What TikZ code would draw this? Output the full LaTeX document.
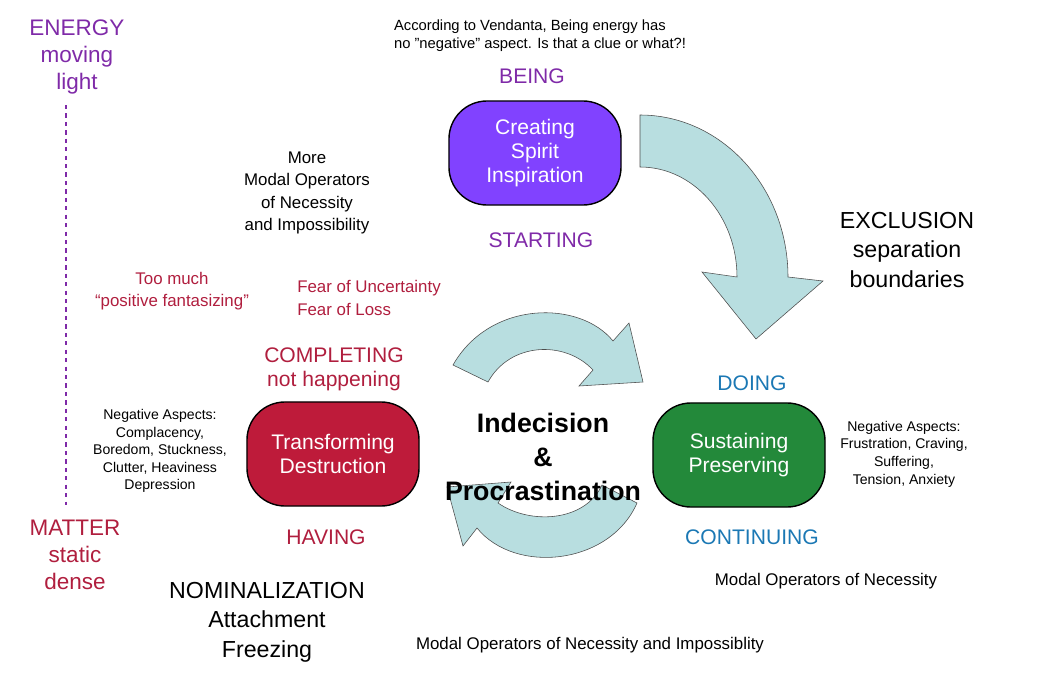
\documentclass[tikz,border=0pt]{standalone}
\usepackage{fontspec}
\setmainfont{Liberation Sans}
\usetikzlibrary{shapes.misc}
\definecolor{beingpurple}{HTML}{7F2AA8}
\definecolor{matterred}{HTML}{B01E3E}
\definecolor{doingblue}{HTML}{1B78B4}
\definecolor{boxpurple}{HTML}{8142FF}
\definecolor{boxred}{HTML}{BE1B3A}
\definecolor{boxgreen}{HTML}{23893A}
\definecolor{arrowfill}{HTML}{B8DEE0}
\tikzstyle{stage} = [rectangle, rounded corners=0.95cm, minimum width=4.3cm, minimum height=2.6cm, text centered, draw=black, line width=1pt, text=white, font=\fontsize{15}{17}\selectfont, align=center]
\tikzstyle{caption} = [align=center, font=\fontsize{15}{17}\selectfont]
\tikzstyle{note} = [align=center, font=\fontsize{10}{12.5}\selectfont]
\tikzstyle{bigarrow} = [fill=arrowfill, draw=black!70, line width=0.4pt]

\begin{document}
\begin{tikzpicture}[x=0.025cm, y=-0.025cm]
\useasboundingbox (0,0) rectangle (1048,677);

\node (creating) [stage, fill=boxpurple] at (535,153) {Creating\\Spirit\\Inspiration};
\node (transforming) [stage, fill=boxred] at (333,454) {Transforming\\Destruction};
\node (sustaining) [stage, fill=boxgreen] at (739,455) {Sustaining\\Preserving};

% Arrows
\draw [bigarrow] (640,115) arc[start angle=-90, end angle=0, x radius=148, y radius=162]
  -- (823,281) -- (756,339) -- (702,272) -- (737,277)
  arc[start angle=0, end angle=-90, x radius=97, y radius=110] -- cycle;
\draw [bigarrow] (453,365) .. controls (490,300) and (580,300) .. (613,341)
  -- (629,323) -- (643,382) -- (579,386) -- (593,370)
  .. controls (565,340) and (510,342) .. (488,382) -- cycle;
\draw [bigarrow] (637,503) .. controls (610,565) and (515,575) .. (477,528)
  -- (463,546) -- (447,487) -- (511,482) -- (498,503)
  .. controls (530,525) and (585,522) .. (602,485) -- cycle;

% Labels
\draw [beingpurple, dashed, line width=0.8pt] (66,105) -- (66,505);
\node (energy) [caption, text=beingpurple, font=\fontsize{16}{19}\selectfont] at (77,57) {ENERGY\\moving\\light};
\node (matter) [caption, text=matterred, font=\fontsize{16}{19}\selectfont] at (75,555) {MATTER\\static\\dense};
\node (vedanta) [note, align=left, font=\fontsize{10.5}{13}\selectfont] at (540,36) {According to Vendanta, Being energy has\\no \symbol{34}negative\symbol{34} aspect. Is that a clue or what?!};
\node (being) [caption, text=beingpurple] at (532,76) {BEING};
\node (starting) [caption, text=beingpurple] at (541,240) {STARTING};
\node (moremodal) [caption, font=\fontsize{12}{16}\selectfont] at (307,193) {More\\Modal Operators\\of Necessity\\and Impossibility};
\node (exclusion) [caption, font=\fontsize{16.5}{21}\selectfont] at (907,250) {EXCLUSION\\separation\\boundaries};
\node (fantasy) [caption, text=matterred, font=\fontsize{12}{16}\selectfont] at (172,291) {Too much\\“positive fantasizing”};
\node (fear) [caption, align=left, text=matterred, font=\fontsize{12}{16}\selectfont] at (369,298) {Fear of Uncertainty\\Fear of Loss};
\node (completing) [caption, text=matterred] at (334,369) {COMPLETING\\not happening};
\node (doing) [caption, text=doingblue] at (752,383) {DOING};
\node (negleft) [note] at (160,451) {Negative Aspects:\\Complacency,\\Boredom, Stuckness,\\Clutter, Heaviness\\Depression};
\node (indecision) [caption, font=\bfseries\fontsize{19}{24}\selectfont] at (543,457) {Indecision\\\&\\Procrastination};
\node (negright) [note] at (904,454) {Negative Aspects:\\Frustration, Craving,\\Suffering,\\Tension, Anxiety};
\node (having) [caption, text=matterred] at (326,537) {HAVING};
\node (continuing) [caption, text=doingblue] at (752,537) {CONTINUING};
\node (modalnec) [caption, font=\fontsize{12}{15}\selectfont] at (826,581) {Modal Operators of Necessity};
\node (nominal) [caption, font=\fontsize{16.5}{21}\selectfont] at (267,622) {NOMINALIZATION\\Attachment\\Freezing};
\node (modalboth) [caption, font=\fontsize{12}{15}\selectfont] at (590,645) {Modal Operators of Necessity and Impossiblity};

\end{tikzpicture}
\end{document}
